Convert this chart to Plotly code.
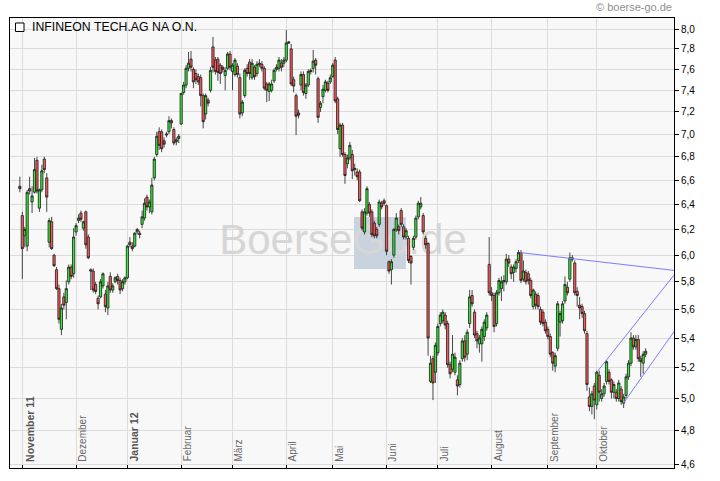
import math
import plotly.graph_objects as go

# ---------------- data ----------------
opens = [6.55, 6.31, 6.15, 6.07, 6.53, 6.42, 6.50, 6.77, 6.37, 6.52,
         6.78, 6.62, 6.10, 6.26, 6.00, 5.89, 5.75, 5.46, 5.69, 5.65,
         5.80, 5.91, 5.86, 6.18, 6.27, 6.33, 6.21, 6.34, 6.14, 5.89,
         5.88, 5.78, 5.68, 5.69, 5.77, 5.71, 5.61, 5.84, 5.74, 5.80,
         5.84, 5.81, 5.75, 5.80, 5.83, 6.10, 6.07, 6.07, 6.18, 6.17,
         6.24, 6.29, 6.46, 6.38, 6.34, 6.62, 6.82, 7.02, 7.02, 6.94,
         6.99, 7.02, 7.12, 7.04, 6.93, 6.96, 7.09, 7.38, 7.45, 7.61,
         7.70, 7.60, 7.56, 7.53, 7.52, 7.35, 7.18, 7.31, 7.40, 7.82,
         7.69, 7.70, 7.64, 7.62, 7.54, 7.61, 7.75, 7.58, 7.55, 7.63,
         7.52, 7.19, 7.35, 7.61, 7.67, 7.52, 7.62, 7.56, 7.66, 7.65,
         7.61, 7.46, 7.39, 7.40, 7.49, 7.60, 7.61, 7.66, 7.66, 7.69,
         7.87, 7.80, 7.50, 7.35, 7.19, 7.45, 7.55, 7.37, 7.45, 7.59,
         7.61, 7.69, 7.51, 7.24, 7.34, 7.40, 7.47, 7.48, 7.53, 7.69,
         7.32, 6.87, 7.08, 6.82, 6.74, 6.79, 6.82, 6.69, 6.67, 6.67,
         6.34, 6.18, 6.33, 6.40, 6.34, 6.25, 6.20, 6.24, 6.41, 6.43,
         6.39, 5.95, 5.89, 6.00, 6.20, 6.22, 6.35, 6.22, 6.14, 6.13,
         5.99, 6.06, 6.14, 6.30, 6.38, 6.31, 6.13, 6.09, 5.11, 5.26,
         5.17, 5.30, 5.50, 5.52, 5.56, 5.50, 5.22, 5.19, 5.17, 5.12,
         5.09, 5.26, 5.38, 5.29, 5.50, 5.70, 5.58, 5.43, 5.36, 5.36,
         5.41, 5.47, 5.93, 5.72, 5.70, 5.50, 5.72, 5.75, 5.80, 5.80,
         5.97, 5.91, 5.87, 5.90, 5.96, 6.02, 5.82, 5.87, 5.86, 5.81,
         5.62, 5.71, 5.70, 5.60, 5.58, 5.51, 5.46, 5.41, 5.30, 5.21,
         5.33, 5.51, 5.52, 5.66, 5.76, 5.82, 5.98, 5.94, 5.73, 5.63,
         5.62, 5.57, 5.43, 5.01, 4.95, 5.08, 4.96, 5.15, 5.00, 5.03,
         5.11, 5.17, 5.12, 5.04, 5.04, 5.00, 5.06, 4.97, 5.02, 5.14,
         5.23, 5.40, 5.34, 5.39, 5.26, 5.23, 5.29]

highs = [6.63, 6.34, 6.22, 6.52, 6.63, 6.55, 6.79, 6.80, 6.53, 6.73,
         6.80, 6.66, 6.29, 6.30, 6.01, 5.91, 5.78, 5.64, 5.72, 5.81,
         5.93, 5.93, 6.21, 6.25, 6.32, 6.35, 6.27, 6.35, 6.16, 5.90,
         5.90, 5.80, 5.70, 5.82, 5.87, 5.74, 5.80, 5.87, 5.79, 5.84,
         5.86, 5.83, 5.82, 5.84, 6.08, 6.14, 6.10, 6.18, 6.21, 6.19,
         6.35, 6.45, 6.48, 6.44, 6.62, 6.80, 7.02, 7.06, 7.04, 6.97,
         7.02, 7.16, 7.14, 7.06, 6.97, 7.00, 7.38, 7.48, 7.64, 7.77,
         7.78, 7.62, 7.60, 7.56, 7.55, 7.37, 7.37, 7.33, 7.62, 7.92,
         7.72, 7.72, 7.66, 7.64, 7.62, 7.77, 7.78, 7.66, 7.71, 7.66,
         7.56, 7.31, 7.61, 7.65, 7.70, 7.70, 7.64, 7.68, 7.70, 7.68,
         7.63, 7.48, 7.48, 7.50, 7.61, 7.65, 7.72, 7.70, 7.72, 7.99,
         7.88, 7.85, 7.53, 7.37, 7.22, 7.58, 7.58, 7.47, 7.60, 7.61,
         7.79, 7.71, 7.53, 7.30, 7.45, 7.50, 7.49, 7.55, 7.66, 7.72,
         7.34, 7.10, 7.10, 6.84, 6.82, 6.93, 6.86, 6.74, 6.70, 6.69,
         6.36, 6.37, 6.55, 6.42, 6.36, 6.27, 6.22, 6.44, 6.43, 6.45,
         6.40, 5.96, 5.97, 6.21, 6.33, 6.24, 6.37, 6.24, 6.21, 6.15,
         6.00, 6.15, 6.31, 6.43, 6.46, 6.33, 6.15, 6.10, 5.28, 5.28,
         5.37, 5.50, 5.58, 5.60, 5.58, 5.52, 5.24, 5.42, 5.30, 5.15,
         5.25, 5.40, 5.42, 5.46, 5.74, 5.74, 5.60, 5.45, 5.42, 5.48,
         5.53, 5.58, 6.14, 5.76, 5.72, 5.74, 5.83, 5.84, 5.85, 6.01,
         6.00, 5.93, 5.93, 5.97, 6.04, 6.04, 5.96, 5.89, 5.88, 5.83,
         5.75, 5.73, 5.72, 5.62, 5.60, 5.53, 5.48, 5.43, 5.31, 5.30,
         5.66, 5.59, 5.66, 5.84, 5.80, 6.02, 6.00, 5.96, 5.76, 5.69,
         5.64, 5.59, 5.45, 5.07, 5.05, 5.10, 5.18, 5.18, 5.06, 5.10,
         5.25, 5.19, 5.13, 5.11, 5.06, 5.12, 5.08, 5.03, 5.16, 5.25,
         5.44, 5.42, 5.42, 5.42, 5.28, 5.31, 5.33]

lows = [6.50, 5.82, 6.06, 6.03, 6.48, 6.33, 6.49, 6.49, 6.34, 6.50,
        6.66, 6.34, 6.06, 6.04, 5.91, 5.74, 5.50, 5.42, 5.60, 5.53,
        5.78, 5.82, 5.83, 6.15, 6.25, 6.26, 6.19, 6.05, 5.97, 5.74,
        5.72, 5.71, 5.60, 5.68, 5.75, 5.58, 5.56, 5.72, 5.72, 5.79,
        5.78, 5.71, 5.73, 5.78, 5.82, 6.06, 6.03, 6.06, 6.16, 6.13,
        6.21, 6.27, 6.35, 6.33, 6.32, 6.60, 6.80, 6.86, 6.84, 6.88,
        6.97, 7.00, 7.05, 6.90, 6.90, 6.92, 7.08, 7.36, 7.42, 7.58,
        7.58, 7.42, 7.46, 7.45, 7.25, 7.05, 7.13, 7.25, 7.38, 7.57,
        7.55, 7.49, 7.46, 7.57, 7.40, 7.59, 7.59, 7.40, 7.53, 7.52,
        7.14, 7.16, 7.33, 7.53, 7.50, 7.50, 7.50, 7.53, 7.62, 7.58,
        7.40, 7.29, 7.30, 7.38, 7.47, 7.58, 7.58, 7.58, 7.62, 7.67,
        7.85, 7.44, 7.38, 6.99, 7.14, 7.40, 7.35, 7.32, 7.43, 7.55,
        7.57, 7.55, 7.10, 7.20, 7.28, 7.38, 7.38, 7.46, 7.52, 7.28,
        7.00, 6.80, 6.80, 6.57, 6.70, 6.77, 6.61, 6.64, 6.60, 6.42,
        6.19, 6.16, 6.31, 6.30, 6.14, 6.13, 6.13, 6.22, 6.36, 6.39,
        6.00, 5.86, 5.78, 5.98, 6.18, 6.16, 6.22, 6.12, 6.12, 5.94,
        5.78, 6.04, 6.12, 6.28, 6.36, 6.16, 6.05, 5.28, 5.10, 4.99,
        5.10, 5.28, 5.48, 5.50, 5.46, 5.20, 5.13, 5.17, 5.15, 5.02,
        5.07, 5.24, 5.24, 5.25, 5.47, 5.62, 5.40, 5.33, 5.30, 5.24,
        5.38, 5.45, 5.70, 5.66, 5.44, 5.48, 5.70, 5.66, 5.73, 5.78,
        5.91, 5.82, 5.80, 5.87, 5.94, 5.79, 5.80, 5.78, 5.78, 5.68,
        5.60, 5.60, 5.60, 5.49, 5.48, 5.43, 5.39, 5.27, 5.18, 5.17,
        5.31, 5.41, 5.50, 5.64, 5.70, 5.80, 5.95, 5.70, 5.62, 5.53,
        5.54, 5.43, 5.05, 4.92, 4.90, 4.87, 4.93, 4.98, 4.98, 5.01,
        5.09, 5.09, 5.00, 5.00, 4.98, 4.98, 4.96, 4.94, 5.00, 5.12,
        5.21, 5.32, 5.32, 5.24, 5.14, 5.16, 5.27]

closes = [6.53, 6.05, 6.20, 6.50, 6.51, 6.47, 6.69, 6.51, 6.52, 6.68,
          6.69, 6.46, 6.27, 6.05, 5.92, 5.75, 5.53, 5.61, 5.63, 5.75,
          5.91, 5.84, 6.14, 6.23, 6.29, 6.28, 6.26, 6.08, 5.98, 5.88,
          5.74, 5.73, 5.64, 5.80, 5.86, 5.62, 5.77, 5.74, 5.77, 5.83,
          5.81, 5.74, 5.80, 5.83, 6.07, 6.08, 6.05, 6.17, 6.20, 6.16,
          6.30, 6.41, 6.38, 6.42, 6.56, 6.78, 6.98, 6.90, 6.87, 6.91,
          7.00, 7.12, 7.10, 6.92, 6.95, 6.98, 7.37, 7.45, 7.61, 7.66,
          7.62, 7.48, 7.50, 7.48, 7.35, 7.11, 7.35, 7.28, 7.59, 7.62,
          7.58, 7.57, 7.56, 7.60, 7.59, 7.75, 7.62, 7.64, 7.69, 7.55,
          7.18, 7.29, 7.59, 7.56, 7.56, 7.66, 7.53, 7.65, 7.65, 7.61,
          7.42, 7.40, 7.46, 7.46, 7.59, 7.62, 7.69, 7.62, 7.69, 7.86,
          7.86, 7.46, 7.44, 7.16, 7.17, 7.55, 7.38, 7.45, 7.58, 7.58,
          7.68, 7.64, 7.15, 7.28, 7.41, 7.48, 7.40, 7.52, 7.64, 7.30,
          7.04, 7.08, 6.82, 6.64, 6.79, 6.90, 6.68, 6.70, 6.63, 6.43,
          6.21, 6.34, 6.53, 6.33, 6.16, 6.15, 6.15, 6.42, 6.38, 6.41,
          6.03, 5.88, 5.95, 6.20, 6.29, 6.19, 6.24, 6.14, 6.19, 5.96,
          5.94, 6.13, 6.29, 6.41, 6.41, 6.18, 6.08, 5.40, 5.23, 5.10,
          5.35, 5.48, 5.56, 5.58, 5.49, 5.22, 5.16, 5.29, 5.27, 5.08,
          5.23, 5.38, 5.27, 5.44, 5.69, 5.64, 5.42, 5.38, 5.40, 5.46,
          5.51, 5.56, 5.72, 5.70, 5.48, 5.72, 5.81, 5.80, 5.81, 5.97,
          5.94, 5.86, 5.91, 5.95, 6.02, 5.81, 5.88, 5.80, 5.81, 5.70,
          5.74, 5.63, 5.62, 5.51, 5.50, 5.45, 5.41, 5.29, 5.23, 5.28,
          5.64, 5.57, 5.64, 5.78, 5.72, 5.98, 5.97, 5.72, 5.70, 5.61,
          5.57, 5.45, 5.09, 4.95, 5.03, 4.99, 5.17, 5.04, 5.03, 5.08,
          5.24, 5.11, 5.04, 5.09, 5.00, 5.10, 4.98, 5.01, 5.14, 5.23,
          5.40, 5.34, 5.39, 5.26, 5.24, 5.29, 5.31]

# month starts, as trading-day index of the first session of each month
month_idx = [1, 23, 44, 66, 87, 109, 128, 150, 171, 193, 216, 236]
month_labels = ["November 11", "Dezember", "Januar 12", "Februar", "März", "April",
                "Mai", "Juni", "Juli", "August", "September", "Oktober"]
month_bold = [True, False, True, False, False, False, False, False, False, False, False, False]

y_ticks = [4.6, 4.8, 5.0, 5.2, 5.4, 5.6, 5.8, 6.0, 6.2, 6.4, 6.6, 6.8, 7.0, 7.2, 7.4, 7.6, 7.8, 8.0]

# drawn trend lines: (start index, start price, end index, end price)
trend_lines = [
    (204.6, 6.02, 267.6, 5.885),
    (236.0, 5.17, 267.6, 5.85),
    (246.9, 4.97, 267.6, 5.444),
]

x_range = [-4.03, 267.6]
y_range = [4.577, 8.113]

title_text = "INFINEON TECH.AG NA O.N."
watermark = "BoerseGo.de"
copyright_text = "© boerse-go.de"

FONT = "Liberation Sans"

# ---------------- figure ----------------
x = list(range(len(opens)))
ylog = [math.log10(y_range[0]), math.log10(y_range[1])]

fig = go.Figure()

# watermark on the base subplot (drawn beneath the candle subplot)
fig.add_trace(go.Scatter(
    x=[132.2], y=[6.09], mode="text", text=[watermark],
    textposition="middle center",
    textfont=dict(family=FONT, size=42, color="#d6d6d6"),
    hoverinfo="skip", showlegend=False, xaxis="x", yaxis="y"))

fig.add_trace(go.Candlestick(
    x=x, open=opens, high=highs, low=lows, close=closes,
    xaxis="x2", yaxis="y2",
    increasing=dict(line=dict(color="#1a1a1a", width=0.8), fillcolor="#30ee30"),
    decreasing=dict(line=dict(color="#1a1a1a", width=0.8), fillcolor="#ff5858"),
    whiskerwidth=0, hoverinfo="skip", showlegend=False))

for (xa, ya, xb, yb) in trend_lines:
    fig.add_trace(go.Scatter(
        x=[xa, xb], y=[ya, yb], mode="lines",
        line=dict(color="#7c7cff", width=1),
        hoverinfo="skip", showlegend=False, xaxis="x2", yaxis="y2"))

annotations = []
for xi, lab, b in zip(month_idx, month_labels, month_bold):
    annotations.append(dict(
        x=xi, xref="x", y=0.012, yref="paper",
        text=f"<b>{lab}</b>" if b else lab,
        textangle=-90, xanchor="left", yanchor="bottom", showarrow=False,
        font=dict(family=FONT, size=10.5 if b else 10, color="#555555" if b else "#666666"),
        borderpad=0))

annotations.append(dict(
    x=0.0309, xref="paper", y=0.981, yref="paper", text=title_text,
    xanchor="left", yanchor="middle", showarrow=False,
    font=dict(family=FONT, size=12.3, color="#000000"), borderpad=0))

annotations.append(dict(
    x=0.9985, xref="paper", y=1.024, yref="paper", text=copyright_text,
    xanchor="right", yanchor="middle", showarrow=False,
    font=dict(family=FONT, size=11, color="#909090"), borderpad=0))

shapes = [
    dict(type="rect", xref="x", yref="y", x0=136.7, x1=157.9, y0=5.896, y1=6.299,
         fillcolor="#c9d3dd", line=dict(width=0), layer="between"),
    dict(type="rect", xref="paper", yref="paper", x0=0.0083, x1=0.0211, y0=0.970, y1=0.9889,
         fillcolor="#ffffff", line=dict(color="#000000", width=1), layer="above"),
]

fig.update_layout(
    width=720, height=481,
    margin=dict(l=10, r=46, t=18, b=13),
    paper_bgcolor="#ffffff", plot_bgcolor="#f8f8f8",
    hovermode=False, showlegend=False,
    boxgap=0.1, boxgroupgap=0.0,
    font=dict(family=FONT, size=10, color="#000000"),
    annotations=annotations, shapes=shapes,
    xaxis=dict(range=x_range, tickvals=month_idx, showticklabels=False,
               ticks="inside", ticklen=3, tickcolor="#000000",
               showgrid=True, gridcolor="#dcdcdc", gridwidth=1,
               showline=True, linecolor="#000000", linewidth=1, mirror=True,
               zeroline=False, rangeslider=dict(visible=False), fixedrange=True),
    yaxis=dict(type="log", range=ylog, tickvals=y_ticks,
               ticktext=[f"{v:.1f}".replace(".", ",") for v in y_ticks],
               side="right", ticks="outside", ticklen=4, tickcolor="#000000",
               tickfont=dict(family=FONT, size=10, color="#000000"),
               showgrid=True, gridcolor="#dcdcdc", gridwidth=1,
               showline=True, linecolor="#000000", linewidth=1, mirror=True,
               zeroline=False, fixedrange=True),
    xaxis2=dict(overlaying="x", range=x_range, visible=False,
                rangeslider=dict(visible=False), fixedrange=True),
    yaxis2=dict(overlaying="y", type="log", range=ylog, visible=False, fixedrange=True),
)

fig.write_html("out.html", config={"displayModeBar": False},
               post_script="document.body.style.margin='0px';")
